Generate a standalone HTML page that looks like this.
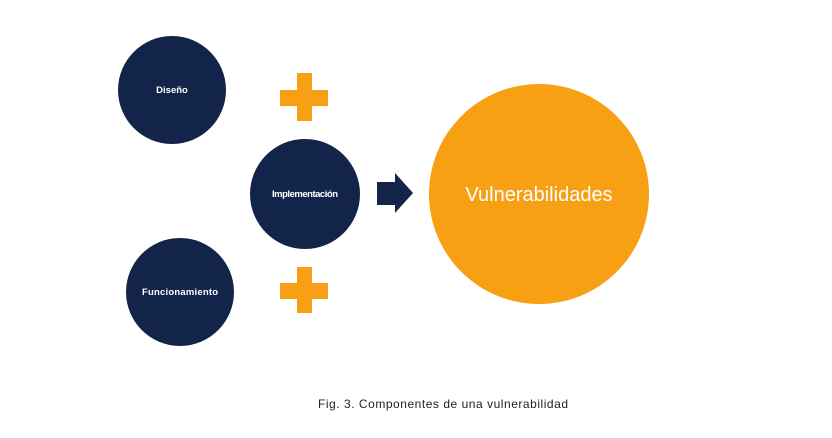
<!DOCTYPE html><html><head><style>body{margin:0;background:#fff}</style></head><body>
<svg width="832" height="438" xmlns="http://www.w3.org/2000/svg" style="display:block">
<rect width="832" height="438" fill="#fff"/>
<circle cx="172" cy="90" r="54" fill="#13244a"/>
<circle cx="305" cy="194" r="55" fill="#13244a"/>
<circle cx="180" cy="292" r="54" fill="#13244a"/>
<circle cx="539" cy="194" r="110" fill="#f7a014"/>
<g fill="#f7a014">
<rect x="297" y="73" width="15" height="48"/><rect x="280" y="90" width="48" height="16"/>
<rect x="297" y="267" width="15" height="46"/><rect x="280" y="283" width="48" height="16"/>
</g>
<polygon points="377,182 395,182 395,173 413,193 395,213 395,205 377,205" fill="#13244a"/>
<g font-family="Liberation Sans, sans-serif" fill="#fff" text-anchor="middle" font-size="9.5" font-weight="bold">
<text x="172" y="93">Diseño</text>
<text x="305" y="197" textLength="66">Implementación</text>
<text x="180" y="295" textLength="76">Funcionamiento</text>
<text x="539" y="201" font-size="20" font-weight="normal">Vulnerabilidades</text>
</g>
<text x="443" y="408" font-family="Liberation Sans, sans-serif" font-size="12" fill="#222" text-anchor="middle" textLength="250">Fig. 3. Componentes de una vulnerabilidad</text>
</svg>
</body></html>
